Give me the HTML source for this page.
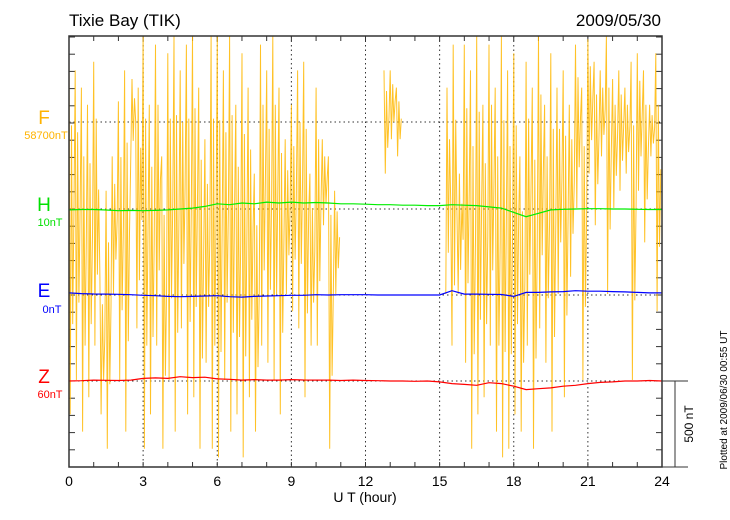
<!DOCTYPE html>
<html><head><meta charset="utf-8">
<style>
html,body{margin:0;padding:0;background:#fff;}
svg{display:block;font-family:"Liberation Sans",sans-serif;}
</style></head>
<body>
<svg id="chart" width="730" height="520" viewBox="0 0 730 520">
<text x="69" y="26" font-size="17" fill="#000">Tixie Bay (TIK)</text>
<text x="661" y="26" font-size="17" fill="#000" text-anchor="end">2009/05/30</text>
<g id="grid"></g>
<g id="ticks"></g>
<g id="series"></g>
<rect x="69" y="36" width="593" height="431" fill="none" stroke="#333" stroke-width="1.5"/>
<text x="44" y="124" font-size="19" fill="#ffb300" text-anchor="middle">F</text>
<text x="46" y="139" font-size="11" fill="#ffb300" text-anchor="middle">58700nT</text>
<text x="44" y="211" font-size="19" fill="#00e000" text-anchor="middle">H</text>
<text x="50" y="226" font-size="11" fill="#00e000" text-anchor="middle">10nT</text>
<text x="44" y="297" font-size="19" fill="#0000ff" text-anchor="middle">E</text>
<text x="52" y="313" font-size="11" fill="#0000ff" text-anchor="middle">0nT</text>
<text x="44" y="383" font-size="19" fill="#ff0000" text-anchor="middle">Z</text>
<text x="50" y="398" font-size="11" fill="#ff0000" text-anchor="middle">60nT</text>
<text x="365" y="502" font-size="14" text-anchor="middle">U T (hour)</text>
<g>
<line x1="662" y1="381" x2="688" y2="381" stroke="#333"/>
<line x1="662" y1="467" x2="688" y2="467" stroke="#333"/>
<line x1="675" y1="381" x2="675" y2="467" stroke="#333"/>
</g>
<text transform="translate(693,424) rotate(-90)" font-size="12" text-anchor="middle">500 nT</text>
<text transform="translate(727,400) rotate(-90)" font-size="10" text-anchor="middle">Plotted at 2009/06/30 00:55 UT</text>
</svg>
<script>
const xTickLabels = [0,3,6,9,12,15,18,21,24];
const fStep = 0.125;
const fValues = [
400,-1700,300,-1500,200,-1800,100,-1600,
350,-1300,-900,-1700,-400,-1900,-200,-1000,
120,-1500,300,-1800,-200,250,-1200,200,
500,-1900,100,-1700,450,-1300,-200,-1900,
400,-1500,500,-1800,300,-1200,450,-1700,
500,-1600,200,-1900,-100,-1400,500,-1900,
500,-1950,300,-1500,500,-1800,100,-1700,
400,-1950,200,-1600,-300,-1800,450,-1300,
300,-1400,500,-1500,200,-1700,-100,-1000,
100,-1100,300,-1200,350,-1600,-300,-1300,
200,-1300,-100,-600,-200,-1900,-400,-1000,
null,null,null,null,null,null,null,null,
null,null,null,null,null,null,300,-300,
300,-100,200,-200,null,null,null,null,
null,null,null,null,null,null,null,null,
null,480,-1000,200,-1300,450,-1000,-300,
450,-1400,300,-1900,500,-1700,100,-1600,
450,-1300,200,-1800,500,-1950,300,-1900,
400,-1700,-200,-1800,350,-1300,200,-1900,
500,-1200,100,-1400,400,-1800,200,-1000,
300,-1600,100,-900,450,-500,200,-1500,
480,-300,350,-600,300,-200,500,-1000,
250,-500,300,-400,200,-300,350,-1500,
400,-400,300,-700,100,-200,400,-1100
];
const compStep = 0.5;
const hValues = [-5,-3,-3,-6,-10,-8,-10,-8,-5,0,5,15,30,25,35,30,40,35,40,35,38,35,30,30,28,25,25,22,22,20,20,25,22,20,12,5,-20,-45,-25,-5,-2,0,2,2,0,0,-2,-3,-3];
const eValues = [12,8,6,5,4,2,-2,-4,-8,-10,-8,-6,-4,-10,-12,-8,-6,-4,-2,-2,2,0,2,2,2,0,0,0,0,0,0,25,5,5,4,3,-8,15,15,18,20,25,22,22,20,18,15,12,12];
const zValues = [0,2,5,4,3,5,15,18,15,25,20,22,12,10,5,8,5,5,8,6,5,5,3,5,3,2,0,0,-2,0,-5,-15,-20,-25,-10,-15,-30,-50,-45,-40,-30,-25,-15,-8,-5,0,0,3,0];

const X0=69, X1=662, Y0=36, Y1=467;
const pxPerNT = 86/500;
const baseF=122, baseH=209, baseE=295, baseZ=381;
function xs(h){return X0+(X1-X0)*h/24;}
function ys(base,v){return Math.max(Y0,Math.min(Y1,base - v*pxPerNT));}
const NS='http://www.w3.org/2000/svg';
const grid=document.getElementById('grid'), ticks=document.getElementById('ticks'), series=document.getElementById('series');
function mk(tag,attrs,parent){const e=document.createElementNS(NS,tag);for(const k in attrs)e.setAttribute(k,attrs[k]);parent.appendChild(e);return e;}

[baseF,baseH,baseE,baseZ].forEach(function(b){
  const l=mk('line',{x1:X0,x2:X1,y1:b,y2:b,stroke:'#333','stroke-dasharray':'1.5,3'},grid);
  
  
});
xTickLabels.forEach(function(h){
  if(h>0&&h<24){
    const l=mk('line',{x1:xs(h),x2:xs(h),y1:Y0,y2:Y1,stroke:'#333','stroke-dasharray':'1.5,3'},grid);
    
    
  }
  const t=mk('text',{x:xs(h),y:486,'font-size':14,'text-anchor':'middle'},ticks);
  t.textContent=h;
  
  
});
for(let h=0;h<=24;h++){
  const a=mk('line',{x1:xs(h),x2:xs(h),y1:Y1,y2:Y1-5,stroke:'#333'},ticks);
  
  
  const b=mk('line',{x1:xs(h),x2:xs(h),y1:Y0,y2:Y0+5,stroke:'#333'},ticks);
  
  
}
for(let y=baseZ+86;y>=Y0;y-=17.2){
  const a=mk('line',{x1:X0,x2:X0+6,y1:y,y2:y,stroke:'#333'},ticks);
  
  
  const b=mk('line',{x1:X1-6,x2:X1,y1:y,y2:y,stroke:'#333'},ticks);
  
  
}
function drawSeries(vals,step,base,color,name,w,op){
  let segs=[],cur=[];
  vals.forEach(function(v,i){
    if(v===null){if(cur.length)segs.push(cur);cur=[];}
    else cur.push(xs(i*step).toFixed(1)+','+ys(base,v).toFixed(1));
  });
  if(cur.length)segs.push(cur);
  segs.forEach(function(s){
    if(s.length===1)s.push(s[0]);
    const p=mk('polyline',{points:s.join(' '),fill:'none',stroke:color,'stroke-width':w,opacity:op},series);
    
    
  });
}
// F: each pair of values is a (peak, trough) envelope for a 0.25 h bin, drawn as vertical spikes
const spikeFrac=[0,1,0.2,0.75,0.45];
function drawF(){
  let segs=[],cur=[];
  const binW=xs(2*fStep)-xs(0);
  for(let k=0;k*2+1<fValues.length;k++){
    const a=fValues[2*k], b=fValues[2*k+1];
    if(a===null||b===null){if(cur.length)segs.push(cur);cur=[];continue;}
    const x0=xs(2*k*fStep);
    spikeFrac.forEach(function(f,j){
      const v=a+(b-a)*f;
      cur.push((x0+binW*j/spikeFrac.length).toFixed(1)+','+ys(baseF,v).toFixed(1));
    });
  }
  if(cur.length)segs.push(cur);
  segs.forEach(function(s){
    const p=mk('polyline',{points:s.join(' '),fill:'none',stroke:'#ffb700','stroke-width':1,opacity:0.85},series);
    
    
  });
}
drawF();
drawSeries(hValues,compStep,baseH,'#00ee00','h-series',1.2,1);
drawSeries(eValues,compStep,baseE,'#0000ff','e-series',1.2,1);
drawSeries(zValues,compStep,baseZ,'#ff0000','z-series',1.2,1);
</script>
</body></html>
